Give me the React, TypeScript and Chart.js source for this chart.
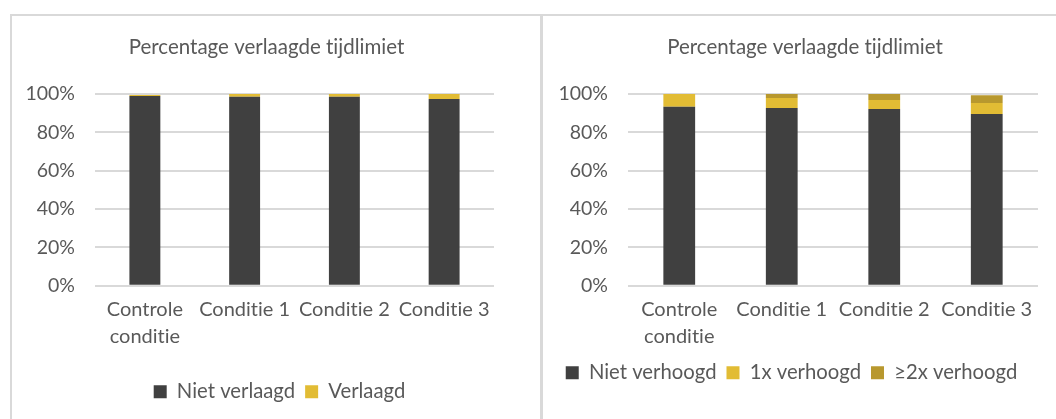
import React, { useEffect, useRef } from "react";
import { Chart, registerables } from "chart.js";

Chart.register(...registerables);

const TITLE = "Percentage verlaagde tijdlimiet";
const categories: (string | string[])[] = [["Controle", "conditie"], "Conditie 1", "Conditie 2", "Conditie 3"];
const yTicks = [0, 20, 40, 60, 80, 100];

// left chart
const nietVerlaagd = [99.0, 98.6, 98.6, 97.4];
const verlaagd = [0.5, 1.4, 1.4, 2.6];

// right chart
const nietVerhoogd = [93.4, 92.7, 92.2, 89.6];
const eenXVerhoogd = [6.6, 5.2, 4.7, 5.7];
const tweeXVerhoogd = [0, 2.2, 3.3, 4.0];

const DARK = "#404040";
const YELLOW = "#E2BC34";
const GOLD = "#B8982E";
const TEXT = "#595959";
const GRID = "#d9d9d9";
const FONT = "Lato";

type Cfg = {
  datasets: { label: string; data: number[]; color: string }[];
  padRight: number;
  padBottom: number;
  yWidth: number;
  xHeight: number;
  titleDx: number;
  legendDx: number;
};

const noLig = (chart: any) => {
  try {
    chart.ctx.textRendering = "optimizeSpeed";
  } catch (e) {}
};

const shiftPlugin = {
  id: "shift",
  beforeUpdate(chart: any) {
    noLig(chart);
  },
  beforeLayout(chart: any) {
    noLig(chart);
  },
  afterLayout(chart: any, _args: any, opts: any) {
    const t = chart.titleBlock;
    if (t) {
      t.left += opts.titleDx;
      t.right += opts.titleDx;
    }
    const l = chart.legend;
    if (l) {
      l.left += opts.legendDx;
      l.right += opts.legendDx;
    }
  },
  beforeDraw(chart: any) {
    noLig(chart);
  },
};

function StackChart({ cfg, style }: { cfg: Cfg; style: React.CSSProperties }) {
  const ref = useRef<HTMLCanvasElement>(null);
  useEffect(() => {
    if (!ref.current) return;
    const chart = new Chart(ref.current, {
      type: "bar",
      data: {
        labels: categories,
        datasets: cfg.datasets.map((d) => ({
          label: d.label,
          data: d.data,
          backgroundColor: d.color,
          borderWidth: 0,
          barPercentage: 0.31,
          categoryPercentage: 1,
        })),
      },
      plugins: [shiftPlugin],
      options: {
        animation: false,
        responsive: false,
        maintainAspectRatio: false,
        layout: { padding: { left: 0, right: cfg.padRight, top: 0, bottom: cfg.padBottom } },
        plugins: {
          shift: { titleDx: cfg.titleDx, legendDx: cfg.legendDx },
          tooltip: { enabled: false },
          title: {
            display: true,
            text: TITLE,
            color: TEXT,
            font: { family: FONT, size: 20.5, weight: "normal", lineHeight: 1.2 },
            padding: { top: 18.7, bottom: 34.7 },
          },
          legend: {
            position: "bottom",
            labels: {
              color: TEXT,
              font: { family: FONT, size: 20.3 },
              boxWidth: 13,
              boxHeight: 13,
              padding: 10,
            },
          },
        } as any,
        scales: {
          x: {
            stacked: true,
            grid: { display: false, drawTicks: false },
            border: { display: false },
            ticks: { color: TEXT, font: { family: FONT, size: 20, lineHeight: 1.35 }, padding: 10, maxRotation: 0, autoSkip: false },
            afterFit: (s: any) => {
              s.height = cfg.xHeight;
            },
          },
          y: {
            stacked: true,
            min: 0,
            max: 100,
            afterBuildTicks: (s: any) => {
              s.ticks = yTicks.map((v) => ({ value: v }));
            },
            grid: { color: GRID, lineWidth: 2, drawTicks: false },
            border: { display: false },
            ticks: {
              color: TEXT,
              font: { family: FONT, size: 19.5 },
              padding: 20,
              callback: (v: any) => v + "%",
            },
            afterFit: (s: any) => {
              s.width = cfg.yWidth;
            },
          },
        },
      },
    });
    return () => chart.destroy();
  }, [cfg]);
  return <canvas ref={ref} width={style.width as number} height={style.height as number} style={style} />;
}

const leftCfg: Cfg = {
  datasets: [
    { label: "Niet verlaagd", data: nietVerlaagd, color: DARK },
    { label: "Verlaagd", data: verlaagd, color: YELLOW },
  ],
  padRight: 45,
  padBottom: 7,
  yWidth: 83,
  xHeight: 86,
  titleDx: 13.5,
  legendDx: 26.5,
};

const rightCfg: Cfg = {
  datasets: [
    { label: "Niet verhoogd", data: nietVerhoogd, color: DARK },
    { label: "1x verhoogd", data: eenXVerhoogd, color: YELLOW },
    { label: "≥2x verhoogd", data: tweeXVerhoogd, color: GOLD },
  ],
  padRight: 18,
  padBottom: 26,
  yWidth: 85,
  xHeight: 67,
  titleDx: 14.5,
  legendDx: 1,
};

export default function App() {
  return (
    <div style={{ position: "absolute", left: 0, top: 0, width: 1056, height: 419, background: "#fff", overflow: "hidden" }}>
      <div
        style={{
          position: "absolute",
          left: 10,
          top: 14,
          width: 528,
          height: 420,
          borderTop: `2px solid ${GRID}`,
          borderLeft: `2px solid ${GRID}`,
          borderRight: `2px solid ${GRID}`,
        }}
      />
      <div
        style={{
          position: "absolute",
          left: 541,
          top: 14,
          width: 520,
          height: 420,
          borderTop: `2px solid ${GRID}`,
          borderLeft: `2px solid ${GRID}`,
        }}
      />
      <StackChart cfg={leftCfg} style={{ position: "absolute", left: 12, top: 16, width: 527, height: 403 }} />
      <StackChart cfg={rightCfg} style={{ position: "absolute", left: 543, top: 16, width: 513, height: 403 }} />
    </div>
  );
}
